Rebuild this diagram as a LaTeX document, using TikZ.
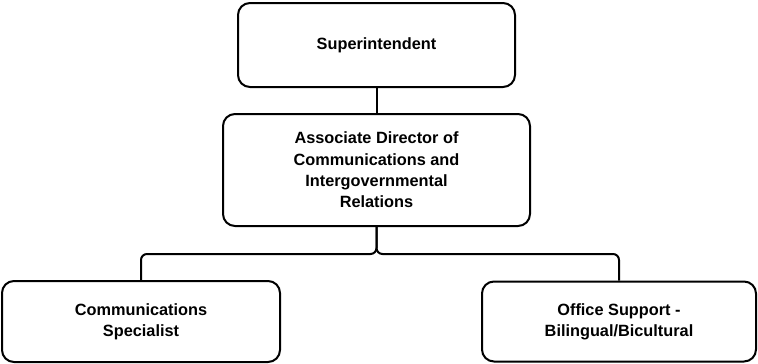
\documentclass[tikz,border=0pt]{standalone}
\usepackage{fontspec}
\setmainfont{Liberation Sans}
\begin{document}
\begin{tikzpicture}[x=1pt,y=-1pt,
  box/.style={draw=black,line width=2pt,rounded corners=12pt,fill=white,
    align=center,inner sep=0pt,font=\fontsize{16.3}{21.3}\selectfont\bfseries},
  link/.style={line width=2pt,rounded corners=6pt}]
\useasboundingbox (0,0) rectangle (758,364);
\node[box,minimum width=277pt,minimum height=84pt] (sup) at (376.5,45) {Superintendent};
\node[box,minimum width=307pt,minimum height=112pt] (assoc) at (376.5,170)
  {Associate Director of\\Communications and\\Intergovernmental\\Relations};
\node[box,minimum width=278pt,minimum height=81pt] (comm) at (141,321.5)
  {Communications\\Specialist};
\node[box,minimum width=274pt,minimum height=80pt] (off) at (619,321.5)
  {Office Support -\\Bilingual/Bicultural};
\draw[link] (sup.south) -- (assoc.north);
\draw[link] (assoc.south) -- ++(0,27) -| (comm.north);
\draw[link] (assoc.south) -- ++(0,27) -| (off.north);
\end{tikzpicture}
\end{document}
